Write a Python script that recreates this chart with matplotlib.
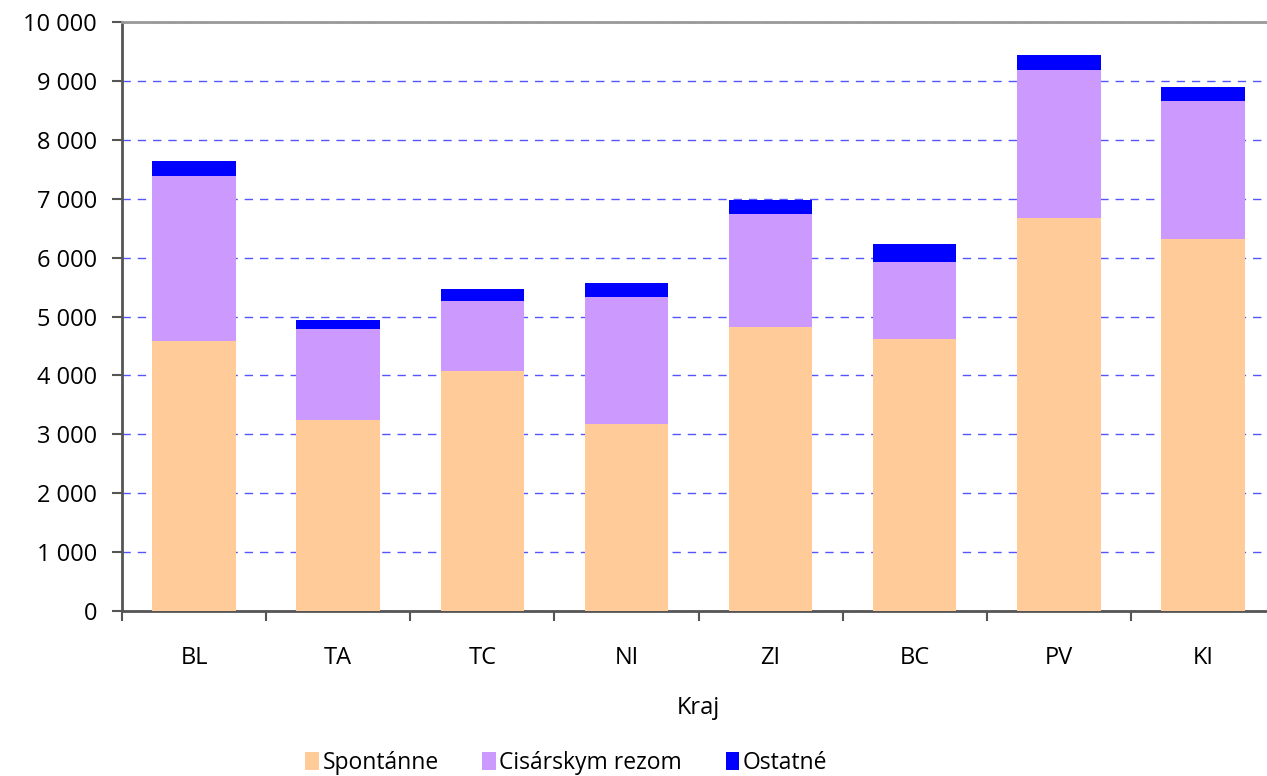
import matplotlib.pyplot as plt
import numpy as np

plt.rcParams['font.family'] = ['Open Sans', 'DejaVu Sans']
plt.rcParams['lines.scale_dashes'] = False

# ----------------------------------------------------------------------------------------------------------------------
# dati
kraje = ["BL", "TA", "TC", "NI", "ZI", "BC", "PV", "KI"]
spontanne = [4580, 3240, 4075, 3170, 4830, 4620, 6680, 6310]
cisarsky = [2805, 1545, 1195, 2155, 1905, 1300, 2500, 2355]
ostatne = [250, 150, 205, 240, 240, 310, 265, 225]
y_ticks = [0, 1000, 2000, 3000, 4000, 5000, 6000, 7000, 8000, 9000, 10000]

# ----------------------------------------------------------------------------------------------------------------------
fig = plt.figure(figsize=(12.67, 7.76), dpi=100)
ax = fig.add_axes([122 / 1267, 165 / 776, 1153 / 1267, 589 / 776])

x = np.arange(len(kraje))
s = np.array(spontanne)
c = np.array(cisarsky)
o = np.array(ostatne)

ax.bar(x, s, width=0.58, color="#FFCC99", label="Spontánne", zorder=3)
ax.bar(x, c, width=0.58, bottom=s, color="#CC99FF", label="Cisárskym rezom", zorder=3)
ax.bar(x, o, width=0.58, bottom=s + c, color="#0000FF", label="Ostatné", zorder=3)

ax.set_xlim(-0.5, len(kraje) - 0.5)
ax.set_ylim(0, 10000)
ax.set_yticks(y_ticks)
ax.set_yticklabels(["{:,}".format(v).replace(",", " ") for v in y_ticks], fontsize=17)
ax.set_xticks(x)
ax.set_xticklabels(kraje, fontsize=17)
ax.set_xticks(np.arange(len(kraje) + 1) - 0.5, minor=True)
ax.tick_params(axis="x", which="major", length=0, pad=25)
ax.tick_params(axis="x", which="minor", length=7, width=1.5, color="#555555")
ax.tick_params(axis="y", length=7, width=1.5, color="#555555", pad=11)

ax.grid(axis="y", color="#5555ff", linestyle=(0, (6, 5)), linewidth=1, zorder=0)
ax.set_axisbelow(True)

for side in ["left", "bottom"]:
    ax.spines[side].set_color("#555555")
    ax.spines[side].set_linewidth(2)
ax.spines["top"].set_color("#999999")
ax.spines["top"].set_linewidth(2)
ax.spines["right"].set_visible(False)

ax.set_xlabel("Kraj", fontsize=17, labelpad=19)

fig.legend(loc="lower center", bbox_to_anchor=(0.447, -0.025), ncol=3, frameon=False,
           prop={"size": 16.5},
           handlelength=0.6, handleheight=0.8, handletextpad=0.15, columnspacing=1.9)

fig.savefig("out.png", dpi=100)
